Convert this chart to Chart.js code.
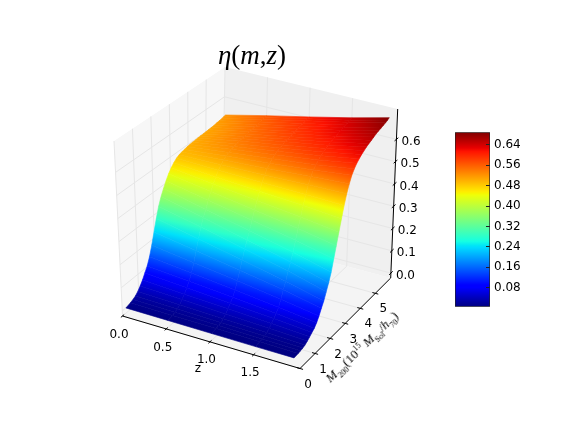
<!DOCTYPE html>
<html>
<head>
  <meta charset="UTF-8" />
  <title>eta(m,z)</title>
  <script src="https://cdn.jsdelivr.net/npm/chart.js"></script>
  <style>
    html, body { margin: 0; padding: 0; background: #fff; }
    #wrap { position: relative; width: 581px; height: 436px; overflow: hidden; }
    #plot { position: absolute; left: 0; top: 0; }
    #bar { position: absolute; left: 454px; top: 117px; }
    #title {
      position: absolute; left: 202px; top: 40px; width: 100px; text-align: center;
      font: italic 27px "Liberation Serif", serif; color: #000; white-space: nowrap;
    }
    #title span { font-style: normal; }
    #mlabel {
      position: absolute; left: 302px; top: 339px; width: 120px; text-align: center;
      font: 13px "Liberation Serif", serif; color: #000; white-space: nowrap;
      transform: rotate(-44deg);
    }
    #mlabel i { font-style: italic; }
    #mlabel sub, #mlabel sup { font-size: 8px; line-height: 0; }
  </style>
</head>
<body>
<div id="wrap">
  <canvas id="plot" width="581" height="436"></canvas>
  <canvas id="bar" width="90" height="205"></canvas>
  <div id="title">η<span>(</span>m<span>,</span>z<span>)</span></div>
  <div id="mlabel"><i>M</i><sub>200</sub>(10<sup>15</sup> <i>M</i><sub>Sol</sub>/<i>h</i><sub>70</sub>)</div>
</div>

<script>
  // values
  const zValues = [0.02, 0.5, 1.0, 1.5, 1.94];
  const mValues = [0.12, 0.40, 0.55, 0.70, 0.85, 1.00, 1.15, 1.30, 1.45, 1.60,
                   1.75, 1.90, 2.05, 2.20, 2.35, 2.50, 2.65, 2.80, 2.95, 3.10,
                   3.25, 3.40, 3.55, 3.70, 3.85, 4.00, 4.15, 4.30, 4.45, 4.60,
                   4.75, 4.90, 5.05, 5.20, 5.35, 5.50, 5.65, 5.80, 5.90, 6.00];
  const etaZ000 = [.008, .014, .019, .025, .036, .051, .068, .090, .112, .143,
                   .185, .235, .285, .330, .365, .392, .418, .440, .458, .472,
                   .483, .490, .494, .497, .500, .502, .503, .504, .505, .506,
                   .506, .507, .508, .509, .510, .512, .514, .516, .518, .520];
  const etaZ050 = [.007, .012, .016, .021, .031, .044, .058, .077, .096, .123,
                   .159, .202, .245, .288, .320, .348, .380, .409, .434, .456,
                   .477, .493, .505, .514, .521, .527, .531, .535, .538, .540,
                   .541, .544, .546, .548, .550, .552, .555, .557, .560, .563];
  const etaZ100 = [.006, .010, .014, .018, .025, .036, .049, .064, .080, .102,
                   .133, .170, .205, .244, .274, .305, .342, .378, .411, .443,
                   .472, .497, .517, .531, .542, .551, .558, .564, .569, .574,
                   .577, .580, .584, .587, .590, .593, .596, .599, .602, .605];
  const etaZ150 = [.005, .008, .011, .014, .020, .028, .039, .051, .063, .081,
                   .106, .137, .165, .199, .229, .262, .305, .347, .388, .429,
                   .468, .502, .529, .549, .564, .576, .586, .594, .601, .607,
                   .612, .617, .621, .626, .630, .633, .636, .640, .643, .648];
  const etaZ194 = [.005, .006, .008, .010, .014, .021, .029, .038, .047, .061,
                   .080, .104, .125, .155, .185, .220, .268, .316, .365, .415,
                   .463, .505, .540, .568, .588, .603, .615, .625, .633, .641,
                   .647, .653, .659, .665, .669, .673, .677, .681, .685, .690];
  const etaColumns = [etaZ000, etaZ050, etaZ100, etaZ150, etaZ194];

  const zTicks = [0, 0.5, 1.0, 1.5];
  const mTicks = [0, 1, 2, 3, 4, 5];
  const etaTicks = [0, 0.1, 0.2, 0.3, 0.4, 0.5, 0.6];
  const barTicks = [0.08, 0.16, 0.24, 0.32, 0.40, 0.48, 0.56, 0.64];

  const zMax = 2.03, mMax = 6.02, etaLow = -0.022, etaHigh = 0.736;
  const colorMin = 0.005, colorMax = 0.69;

  // screen position of the eight corners of the 3d box
  const box = {
    lb: [122.5, 316], fb: [300, 368.5], rb: [390.7, 278], bb: [222, 233],
    lt: [114, 141],   ft: [302, 186],   rt: [397.7, 109], bt: [225, 67]
  };

  function lerp(a, b, t) { return a + (b - a) * t; }

  function project(z, m, eta) {
    const a = z / zMax, b = m / mMax, c = (eta - etaLow) / (etaHigh - etaLow);
    const at = k => {
      const bot = lerp(lerp(box.lb[k], box.fb[k], a), lerp(box.bb[k], box.rb[k], a), b);
      const top = lerp(lerp(box.lt[k], box.ft[k], a), lerp(box.bt[k], box.rt[k], a), b);
      return lerp(bot, top, c);
    };
    return { x: at(0), y: at(1) };
  }

  // matplotlib jet
  function jet(t) {
    t = Math.min(1, Math.max(0, t));
    const piece = (pts) => {
      for (let i = 1; i < pts.length; i++) {
        if (t <= pts[i][0]) {
          return lerp(pts[i - 1][1], pts[i][1], (t - pts[i - 1][0]) / (pts[i][0] - pts[i - 1][0]));
        }
      }
      return pts[pts.length - 1][1];
    };
    const r = piece([[0, 0], [.35, 0], [.66, 1], [.89, 1], [1, .5]]);
    const g = piece([[0, 0], [.125, 0], [.375, 1], [.64, 1], [.91, 0], [1, 0]]);
    const b = piece([[0, .5], [.11, 1], [.34, 1], [.65, 0], [1, 0]]);
    return `rgb(${Math.round(r * 255)},${Math.round(g * 255)},${Math.round(b * 255)})`;
  }
  const etaColor = v => jet((v - colorMin) / (colorMax - colorMin));

  const plotCtx = document.getElementById('plot').getContext('2d');
  const datasets = [];

  function addLine(points, color, width) {
    datasets.push({ data: points, showLine: true, borderColor: color, borderWidth: width,
                    pointRadius: 0, fill: false, tension: 0 });
  }
  function addShape(points, color, edge, edgeWidth) {
    datasets.push({ data: points.concat([points[0]]), showLine: true, backgroundColor: color,
                    borderColor: edge, borderWidth: edgeWidth, pointRadius: 0, fill: 'shape', tension: 0 });
  }

  // fill of one cell: a gradient running across the height contours of the cell
  function cellPaint(a, b, c, d, va, vb, vc, vd) {
    const mean = (va + vb + vc + vd) / 4;
    const u = { x: (b.x + c.x - a.x - d.x) / 2, y: (b.y + c.y - a.y - d.y) / 2 };
    const w = { x: (c.x + d.x - a.x - b.x) / 2, y: (c.y + d.y - a.y - b.y) / 2 };
    const du = (vb + vc - va - vd) / 2, dw = (vc + vd - va - vb) / 2;
    const det = u.x * w.y - u.y * w.x;
    if (Math.abs(det) < 1) return etaColor(mean);
    const gx = (du * w.y - dw * u.y) / det, gy = (dw * u.x - du * w.x) / det;
    const len = Math.hypot(gx, gy);
    if (len < 1e-5) return etaColor(mean);
    const half = Math.max(va, vb, vc, vd) - mean;
    const cx = (a.x + b.x + c.x + d.x) / 4, cy = (a.y + b.y + c.y + d.y) / 4;
    const step = half / len;
    const grad = plotCtx.createLinearGradient(cx - gx / len * step, cy - gy / len * step,
                                              cx + gx / len * step, cy + gy / len * step);
    grad.addColorStop(0, etaColor(mean - half));
    grad.addColorStop(0.5, etaColor(mean));
    grad.addColorStop(1, etaColor(mean + half));
    return grad;
  }

  // surface, front strip first so the back strips get painted under it
  for (let i = 0; i < mValues.length - 1; i++) {
    for (let j = zValues.length - 2; j >= 0; j--) {
      const va = etaColumns[j][i], vb = etaColumns[j + 1][i];
      const vc = etaColumns[j + 1][i + 1], vd = etaColumns[j][i + 1];
      const a = project(zValues[j], mValues[i], va);
      const b = project(zValues[j + 1], mValues[i], vb);
      const c = project(zValues[j + 1], mValues[i + 1], vc);
      const d = project(zValues[j], mValues[i + 1], vd);
      const paint = cellPaint(a, b, c, d, va, vb, vc, vd);
      addShape([a, b, c, d], paint, paint, 0.6);
    }
  }

  // axis lines and tick marks
  addLine([project(0, 0, etaLow), project(zMax, 0, etaLow)], '#000', 1);
  addLine([project(zMax, 0, etaLow), project(zMax, mMax, etaLow)], '#000', 1);
  addLine([project(zMax, mMax, etaLow), project(zMax, mMax, etaHigh)], '#000', 1);
  zTicks.forEach(v => addLine([project(v, -0.1, etaLow), project(v, 0.1, etaLow)], '#000', 1));
  mTicks.forEach(v => addLine([project(zMax - 0.035, v, etaLow), project(zMax + 0.035, v, etaLow)], '#000', 1));
  etaTicks.forEach(v => addLine([project(zMax, mMax - 0.12, v), project(zMax, mMax + 0.12, v)], '#000', 1));

  // grid on floor and walls
  const gridColor = '#e6e6e6';
  zTicks.forEach(v => {
    addLine([project(v, 0, etaLow), project(v, mMax, etaLow), project(v, mMax, etaHigh)], gridColor, 1);
  });
  mTicks.forEach(v => {
    addLine([project(zMax, v, etaLow), project(0, v, etaLow), project(0, v, etaHigh)], gridColor, 1);
  });
  etaTicks.forEach(v => {
    addLine([project(0, 0, v), project(0, mMax, v), project(zMax, mMax, v)], gridColor, 1);
  });

  // panes
  addShape([project(0, 0, etaLow), project(0, mMax, etaLow), project(0, mMax, etaHigh), project(0, 0, etaHigh)], '#f7f7f7', '#f7f7f7', 0);
  addShape([project(0, mMax, etaLow), project(zMax, mMax, etaLow), project(zMax, mMax, etaHigh), project(0, mMax, etaHigh)], '#f0f0f0', '#f0f0f0', 0);
  addShape([project(0, 0, etaLow), project(zMax, 0, etaLow), project(zMax, mMax, etaLow), project(0, mMax, etaLow)], '#f4f4f4', '#f4f4f4', 0);

  const tickLabels = {
    id: 'tickLabels',
    afterDatasetsDraw(chart) {
      const ctx = chart.ctx, sx = chart.scales.x, sy = chart.scales.y;
      const put = (text, p, dx, dy, align) => {
        ctx.textAlign = align;
        ctx.fillText(text, sx.getPixelForValue(p.x) + dx, sy.getPixelForValue(p.y) + dy);
      };
      ctx.save();
      ctx.font = '12px "DejaVu Sans"';
      ctx.fillStyle = '#000';
      ctx.textBaseline = 'middle';
      zTicks.forEach(v => put(v.toFixed(1), project(v, 0, etaLow), -3.5, 18.5, 'center'));
      mTicks.forEach(v => put(String(v), project(zMax, v, etaLow), 8, 16, 'center'));
      etaTicks.forEach(v => put(v.toFixed(1), project(zMax, mMax, v), 5, 2.5, 'left'));
      put('z', project(1.0, 0, etaLow), -12, 27, 'center');
      ctx.restore();
    }
  };

  new Chart(plotCtx, {
    type: 'scatter',
    data: { datasets },
    options: {
      responsive: false,
      animation: false,
      layout: { padding: 0 },
      plugins: { legend: { display: false }, tooltip: { enabled: false } },
      scales: {
        x: { type: 'linear', display: false, min: 0, max: 581 },
        y: { type: 'linear', display: false, min: 0, max: 436, reverse: true }
      }
    },
    plugins: [tickLabels]
  });

  // colour bar
  const jetStops = [0, .11, .125, .34, .35, .375, .64, .65, .66, .89, .91, 1];

  new Chart(document.getElementById('bar'), {
    type: 'bar',
    data: {
      labels: ['eta'],
      datasets: [{
        data: [[colorMin, colorMax]],
        barPercentage: 1,
        categoryPercentage: 1,
        borderWidth: 1,
        borderColor: '#222',
        borderSkipped: false,
        backgroundColor(c) {
          const area = c.chart.chartArea;
          if (!area) return '#000';
          const g = c.chart.ctx.createLinearGradient(0, area.bottom, 0, area.top);
          jetStops.forEach(s => g.addColorStop(s, jet(s)));
          return g;
        }
      }]
    },
    options: {
      responsive: false,
      animation: false,
      layout: { padding: { left: 1, top: 6, bottom: 6, right: 0 } },
      plugins: { legend: { display: false }, tooltip: { enabled: false } },
      scales: {
        x: { display: false },
        y: {
          position: 'right',
          min: colorMin,
          max: colorMax,
          afterBuildTicks(scale) { scale.ticks = barTicks.map(v => ({ value: v })); },
          afterFit(scale) { scale.width = 54; },
          border: { display: false },
          grid: { drawOnChartArea: false, tickLength: -4, color: '#222', z: 1 },
          ticks: {
            padding: 8,
            color: '#000',
            font: { family: 'DejaVu Sans', size: 12 },
            callback: v => v.toFixed(2)
          }
        }
      }
    }
  });
</script>
</body>
</html>
